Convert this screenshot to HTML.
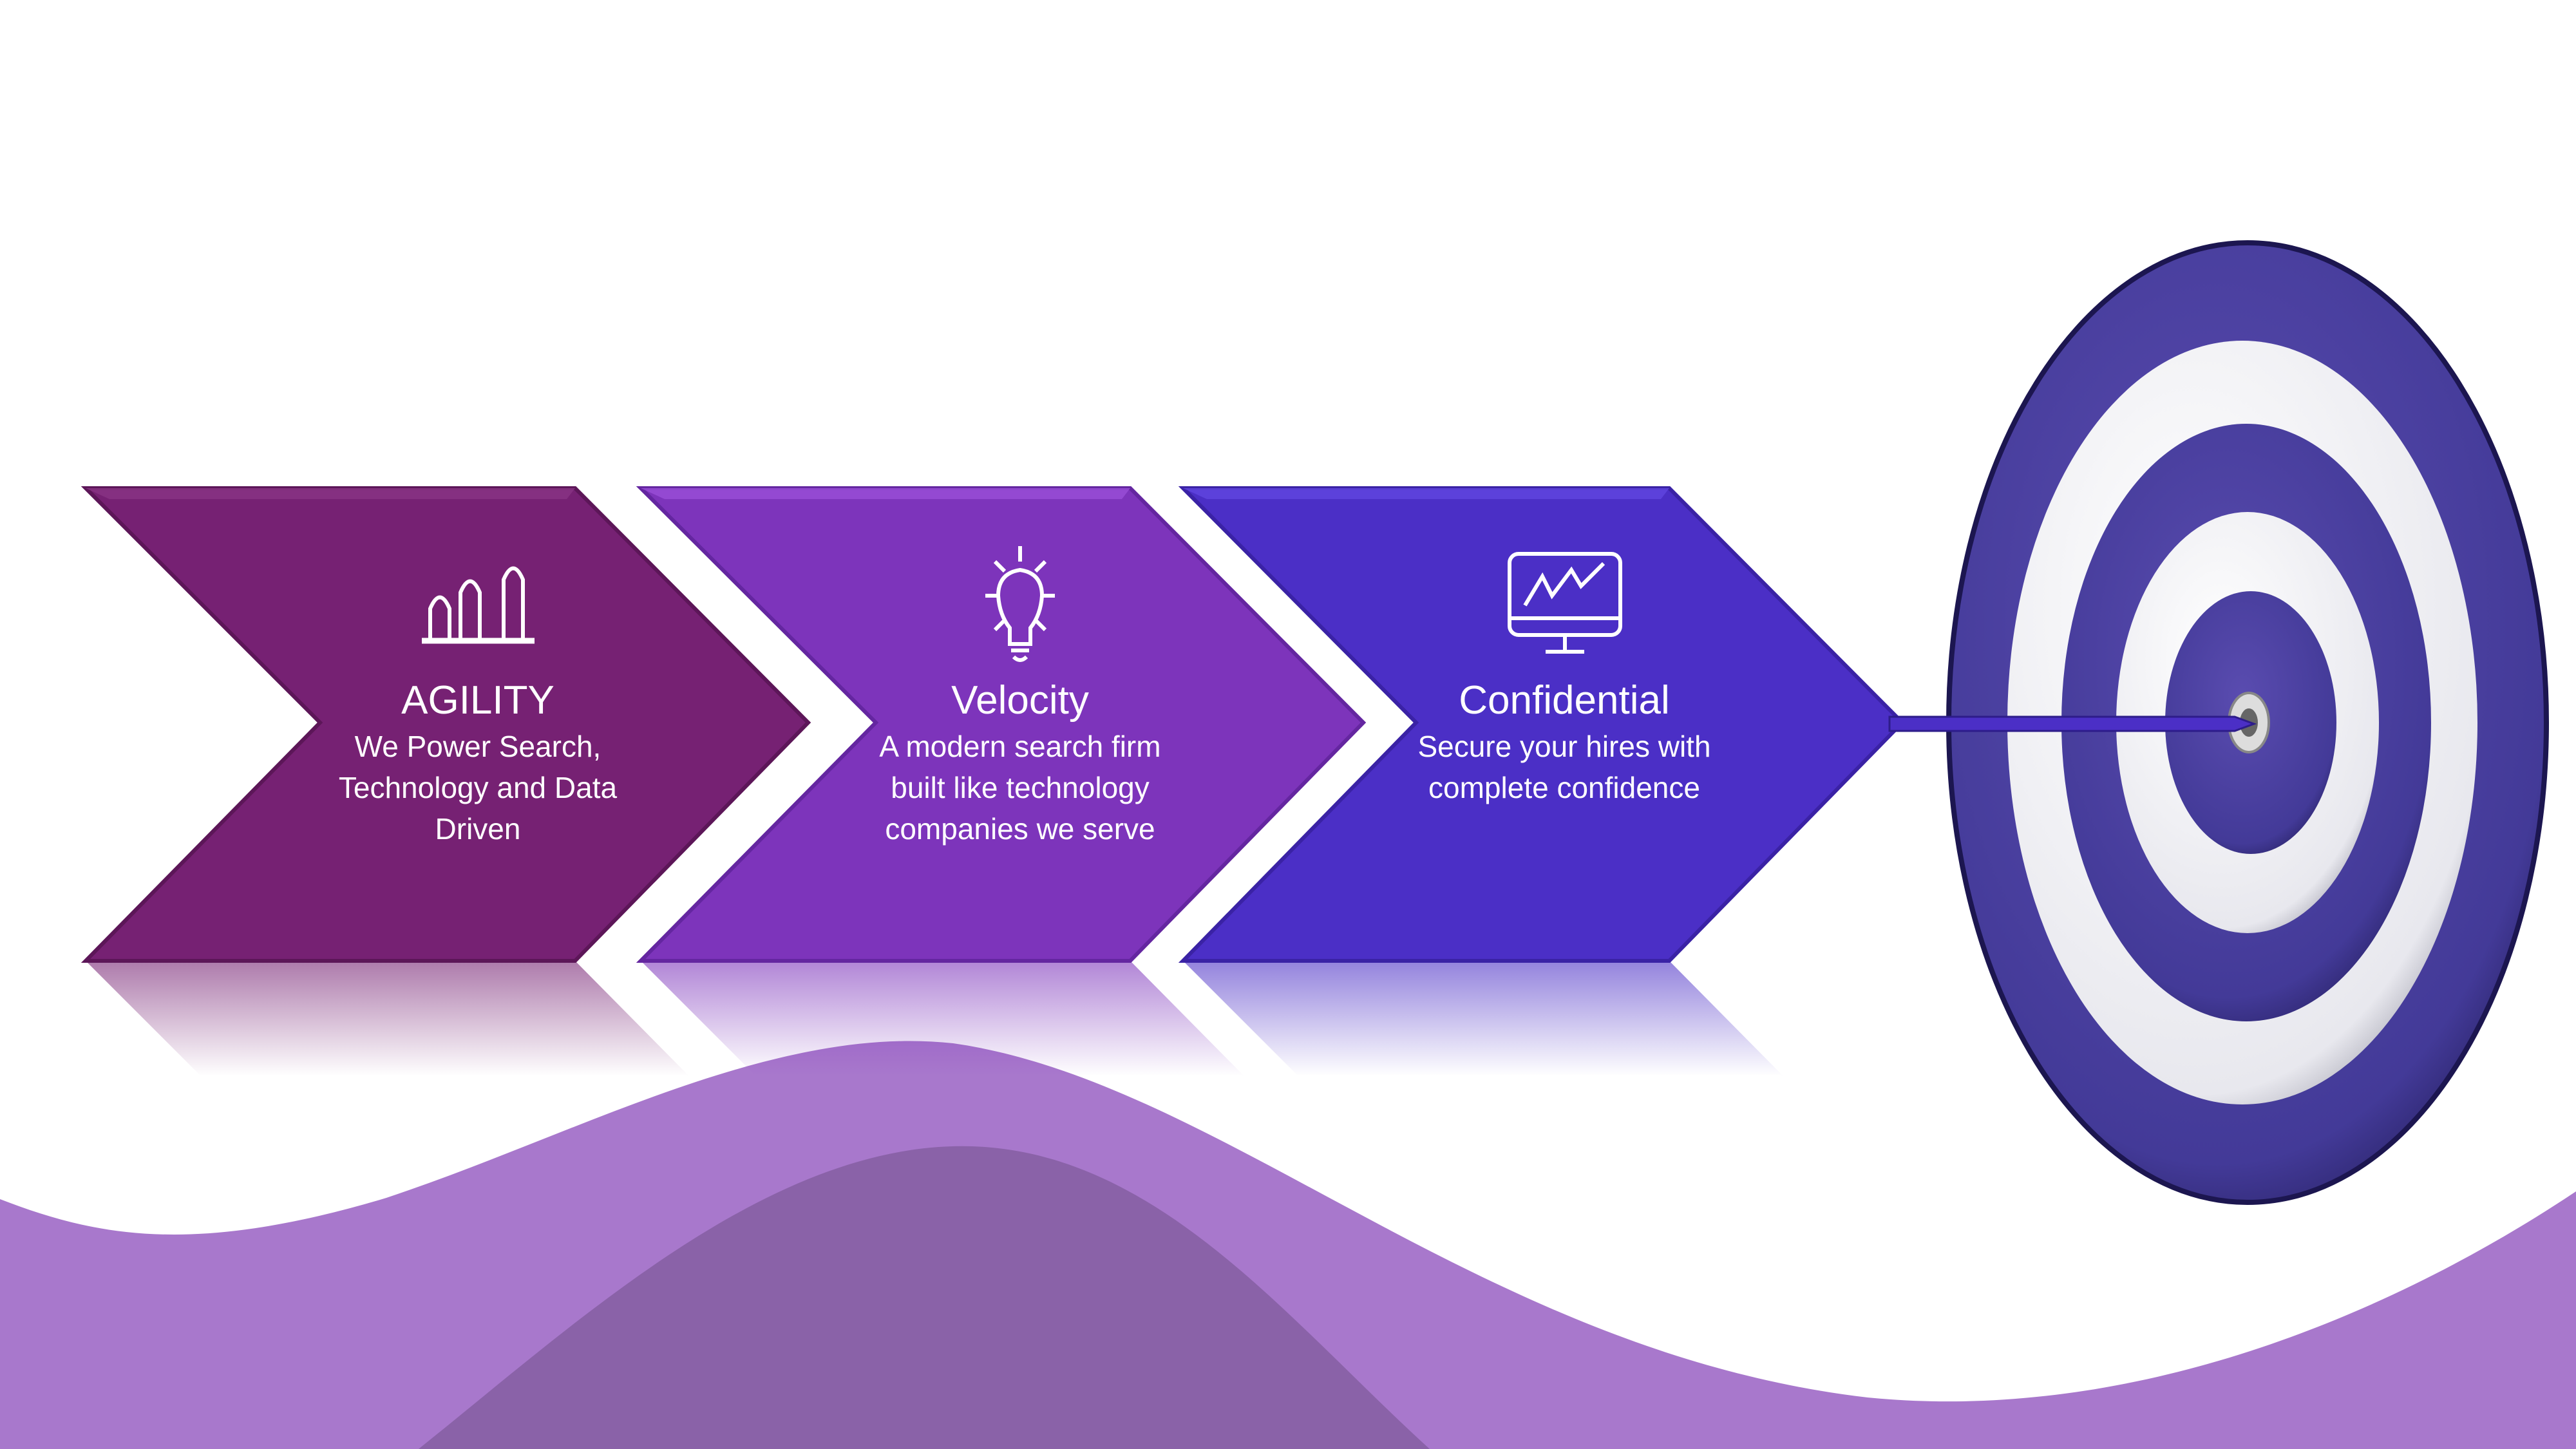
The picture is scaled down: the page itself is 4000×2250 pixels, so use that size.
<!DOCTYPE html>
<html><head><meta charset="utf-8"><style>
html,body{margin:0;padding:0;background:#fff;}
svg{display:block;}
text{font-family:"Liberation Sans",sans-serif;fill:#fff;text-anchor:middle;}
</style></head><body>
<svg width="4000" height="2250" viewBox="0 0 4000 2250" xmlns="http://www.w3.org/2000/svg">
<defs>
<linearGradient id="r1" x1="0" y1="0" x2="0" y2="1"><stop offset="0" stop-color="#762173" stop-opacity="0.6"/><stop offset="1" stop-color="#762173" stop-opacity="0"/></linearGradient>
<linearGradient id="r2" x1="0" y1="0" x2="0" y2="1"><stop offset="0" stop-color="#7d34bb" stop-opacity="0.6"/><stop offset="1" stop-color="#7d34bb" stop-opacity="0"/></linearGradient>
<linearGradient id="r3" x1="0" y1="0" x2="0" y2="1"><stop offset="0" stop-color="#4b2fc6" stop-opacity="0.6"/><stop offset="1" stop-color="#4b2fc6" stop-opacity="0"/></linearGradient>
<radialGradient id="blue" cx="0.45" cy="0.4" r="0.7"><stop offset="0" stop-color="#5a4cb0"/><stop offset="0.8" stop-color="#433a98"/><stop offset="1" stop-color="#201a55"/></radialGradient>
<radialGradient id="white" cx="0.4" cy="0.35" r="0.75"><stop offset="0" stop-color="#ffffff"/><stop offset="0.85" stop-color="#e8e8ee"/><stop offset="1" stop-color="#9a9aa8"/></radialGradient>
</defs>
<!-- waves -->
<path d="M0 1862 C150 1920 300 1950 600 1860 C900 1760 1200 1590 1480 1620 C1900 1680 2300 2100 2900 2170 C3300 2210 3700 2050 4000 1850 L4000 2250 L0 2250 Z" fill="#a878cc"/>
<path d="M650 2250 C900 2050 1200 1770 1510 1780 C1800 1790 2000 2050 2220 2250 Z" fill="#8a62a8"/>
<!-- reflections -->
<polygon points="133,1492 893,1492 1070,1671 312,1671" fill="url(#r1)"/>
<polygon points="995,1492 1755,1492 1932,1671 1174,1671" fill="url(#r2)"/>
<polygon points="1837,1492 2592,1492 2769,1671 2016,1671" fill="url(#r3)"/>
<!-- chevrons -->
<polygon points="133,758 893,758 1255,1122 893,1492 133,1492 497,1122" fill="#762173" stroke="#5c1658" stroke-width="6"/>
<polygon points="995,758 1755,758 2117,1122 1755,1492 995,1492 1360,1122" fill="#7d34bb" stroke="#6426a0" stroke-width="6"/>
<polygon points="1837,758 2592,758 2954,1122 2592,1492 1837,1492 2199,1122" fill="#4b2fc6" stroke="#3a22a5" stroke-width="6"/>
<polygon points="133,758 893,758 880,775 170,775" fill="#8a3585" opacity="0.8"/>
<polygon points="995,758 1755,758 1742,775 1032,775" fill="#9a4fd8" opacity="0.8"/>
<polygon points="1837,758 2592,758 2579,775 1874,775" fill="#6046e0" opacity="0.8"/>
<!-- icons -->
<g fill="none" stroke="#fff" stroke-width="6">
<path d="M668 995 V945 Q683 910 698 945 V995 M715 995 V920 Q730 885 745 920 V995 M782 995 V900 Q797 865 812 900 V995"/>
<line x1="655" y1="995" x2="830" y2="995" stroke-width="9"/>
<path d="M1584 885 Q1550 890 1550 925 Q1552 955 1568 975 V1000 H1600 V975 Q1616 955 1618 925 Q1618 890 1584 885 Z"/>
<path d="M1570 1010 H1598 M1574 1020 Q1584 1030 1594 1020"/>
<path d="M1584 848 V872 M1530 925 H1550 M1618 925 H1638 M1545 872 L1560 887 M1623 872 L1608 887 M1545 978 L1560 963 M1623 978 L1608 963"/>
<rect x="2344" y="860" width="172" height="126" rx="14"/>
<line x1="2344" y1="960" x2="2516" y2="960"/>
<path d="M2430 988 V1010 M2400 1012 H2460"/>
<path d="M2368 940 L2395 895 L2410 925 L2440 885 L2455 910 L2490 875"/>
</g>
<!-- text -->
<text x="742" y="1108" font-size="62">AGILITY</text>
<text x="742" y="1175" font-size="46">We Power Search,</text>
<text x="742" y="1239" font-size="46">Technology and Data</text>
<text x="742" y="1303" font-size="46">Driven</text>
<text x="1584" y="1108" font-size="62">Velocity</text>
<text x="1584" y="1175" font-size="46">A modern search firm</text>
<text x="1584" y="1239" font-size="46">built like technology</text>
<text x="1584" y="1303" font-size="46">companies we serve</text>
<text x="2429" y="1108" font-size="62">Confidential</text>
<text x="2429" y="1175" font-size="46">Secure your hires with</text>
<text x="2429" y="1239" font-size="46">complete confidence</text>
<!-- target -->
<ellipse cx="3490" cy="1122" rx="464" ry="745" fill="url(#blue)" stroke="#1c1650" stroke-width="8"/>
<ellipse cx="3482" cy="1122" rx="365" ry="593" fill="url(#white)"/>
<ellipse cx="3488" cy="1122" rx="287" ry="464" fill="url(#blue)"/>
<ellipse cx="3490" cy="1122" rx="204" ry="327" fill="url(#white)"/>
<ellipse cx="3495" cy="1122" rx="133" ry="204" fill="url(#blue)"/>
<ellipse cx="3492" cy="1122" rx="31" ry="46" fill="#ddd" stroke="#888" stroke-width="4"/>
<ellipse cx="3492" cy="1122" rx="14" ry="22" fill="#666"/>
<polygon points="2934,1113 3470,1113 3500,1124 3470,1135 2934,1135" fill="#4b2fc6" stroke="#2d1c8a" stroke-width="3"/>
</svg>
</body></html>
